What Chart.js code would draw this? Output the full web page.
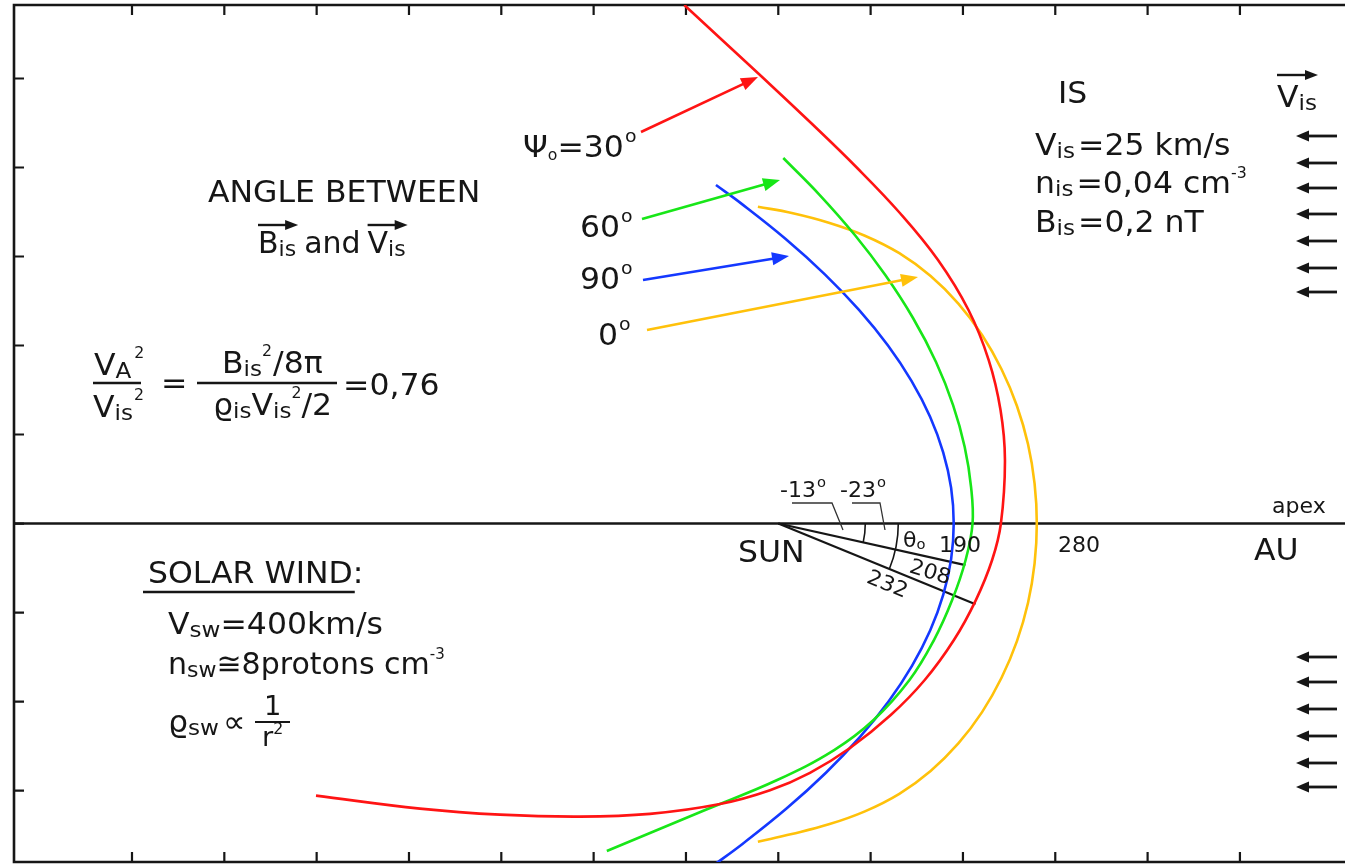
<!DOCTYPE html>
<html>
<head>
<meta charset="utf-8">
<script src="https://cdn.jsdelivr.net/npm/chart.js@4.4.1/dist/chart.umd.min.js"></script>
<style>
  html, body { margin: 0; padding: 0; background: #fff; }
  canvas { display: block; }
</style>
</head>
<body>
<canvas id="c" width="1345" height="865"></canvas>
<script>
// Heliopause cross-sections (AU), Sun at the origin, +x toward the apex.
// One curve per angle Psi0 between the interstellar field and flow.
const psi30 = [[-101.8,582.6],[-59.7,542.1],[-17.5,501.7],[35.5,450.0],[84.4,400.6],[131.7,348.9],[173.0,296.1],[206.0,239.9],[227.9,183.7],[240.7,127.5],[245.5,71.3],[241.1,0],[231.6,-41.0],[214.0,-86.0],[190.2,-130.9],[158.6,-175.8],[121.8,-215.2],[77.7,-252.2],[34.3,-280.1],[-9.0,-299.7],[-63.1,-315.2],[-139.0,-326.2],[-214.8,-329.3],[-301.4,-327.1],[-388.1,-320.3],[-500.7,-305.7]];
const psi60 = [[5.4,410.7],[44.9,369.1],[82.9,324.2],[115.9,279.2],[145.9,230.9],[170.8,181.5],[189.3,133.1],[201.9,86.0],[208.8,41.0],[210.4,0],[202.9,-41.0],[188.3,-86.0],[168.6,-130.9],[142.1,-175.8],[103.2,-220.8],[60.5,-254.5],[-1.2,-288.2],[-79.2,-321.9],[-185.7,-368.0]];
const psi90 = [[-67.5,380.3],[-40.7,360],[7.7,320],[50.4,280],[87.4,240],[118.8,200],[144.4,160],[164.4,120],[178.6,80],[187.2,40],[190,0],[187.2,-40],[178.7,-80],[164.6,-120],[144.8,-160],[119.4,-200],[88.3,-240],[51.6,-280],[9.2,-320],[-38.8,-360],[-71.6,-385]];
const psi0 = [[-22.1,356.0],[14.6,348.9],[54.7,338.0],[93.8,323.4],[131.1,303.7],[165.0,278.0],[195.0,247.1],[220.7,211.9],[241.8,173.3],[258.5,132.1],[270.5,89.1],[277.6,44.8],[280,0],[277.6,-44.8],[270.5,-89.1],[258.5,-132.1],[241.8,-173.3],[220.7,-211.9],[195.0,-247.1],[165.0,-278.0],[131.1,-303.7],[93.8,-323.4],[54.7,-338.0],[14.6,-348.9],[-22.1,-357.5]];

// Distances from the Sun along the tilted directions (degrees, AU)
const rayAngles = [-13, -23];
const rayLengths = [208, 232];

// Unlabelled tick positions (AU)
const xTicks = [-700, -600, -500, -400, -300, -200, -100, 0, 100, 200, 300, 400, 500];
const yTicks = [-300, -200, -100, 0, 100, 200, 300, 400, 500];

const FONT = '"DejaVu Sans", Verdana, sans-serif';
const INK = '#161616';
const RED = '#ff1414', GREEN = '#18e618', BLUE = '#1438ff', YELLOW = '#ffc10a';

const toPts = arr => arr.map(p => ({ x: p[0], y: p[1] }));
const curve = (arr, color) => ({
  data: toPts(arr), borderColor: color, borderWidth: 2.6,
  pointRadius: 0, tension: 0.4, fill: false
});
const ray = i => {
  const a = rayAngles[i] * Math.PI / 180;
  return {
    data: [{ x: 0, y: 0 }, { x: rayLengths[i] * Math.cos(a), y: rayLengths[i] * Math.sin(a) }],
    borderColor: INK, borderWidth: 2.2, pointRadius: 0, tension: 0
  };
};

// Draw a run of text pieces (normal / sub / superscript), left aligned.
function rich(ctx, x, y, runs, stretch = 1.05) {
  let cx = x;
  const pos = [];
  ctx.fillStyle = INK;
  ctx.textBaseline = 'alphabetic';
  ctx.textAlign = 'left';
  for (const r of runs) {
    ctx.font = `${r.s}px ${FONT}`;
    if (r.gap) cx += r.gap;
    const w = ctx.measureText(r.t).width * stretch;
    ctx.save();
    ctx.translate(cx, y + (r.dy || 0));
    ctx.scale(stretch, 1);
    ctx.fillText(r.t, 0, 0);
    ctx.restore();
    pos.push([cx, cx + w]);
    cx += w;
  }
  return pos;
}

function arrow(ctx, x1, y1, x2, y2, color, lw, hl, hw) {
  const a = Math.atan2(y2 - y1, x2 - x1);
  const c = Math.cos(a), s = Math.sin(a);
  ctx.save();
  ctx.strokeStyle = color; ctx.fillStyle = color; ctx.lineWidth = lw; ctx.lineCap = 'butt';
  ctx.beginPath(); ctx.moveTo(x1, y1); ctx.lineTo(x2 - hl * 0.7 * c, y2 - hl * 0.7 * s); ctx.stroke();
  ctx.beginPath();
  ctx.moveTo(x2, y2);
  ctx.lineTo(x2 - hl * c + hw * s, y2 - hl * s - hw * c);
  ctx.lineTo(x2 - hl * c - hw * s, y2 - hl * s + hw * c);
  ctx.closePath(); ctx.fill();
  ctx.restore();
}

function line(ctx, pts, lw, color) {
  ctx.save();
  ctx.strokeStyle = color || INK; ctx.lineWidth = lw;
  ctx.beginPath();
  pts.forEach((p, i) => i ? ctx.lineTo(p[0], p[1]) : ctx.moveTo(p[0], p[1]));
  ctx.stroke();
  ctx.restore();
}

// Frame with inward ticks and the Sun–apex axis
const framePlugin = {
  id: 'frame',
  beforeDatasetsDraw(chart) {
    const { ctx, chartArea: a, scales: { x, y } } = chart;
    ctx.save();
    ctx.strokeStyle = INK; ctx.lineWidth = 2.6;
    ctx.beginPath();
    ctx.moveTo(a.right + 2, a.top); ctx.lineTo(a.left, a.top);
    ctx.lineTo(a.left, a.bottom); ctx.lineTo(a.right + 2, a.bottom);
    ctx.stroke();
    const y0 = y.getPixelForValue(0);
    ctx.beginPath(); ctx.moveTo(a.left, y0); ctx.lineTo(a.right, y0); ctx.stroke();
    ctx.lineWidth = 2.2;
    ctx.beginPath();
    for (const v of xTicks) {
      const px = x.getPixelForValue(v);
      ctx.moveTo(px, a.top); ctx.lineTo(px, a.top + 10);
      ctx.moveTo(px, a.bottom); ctx.lineTo(px, a.bottom - 10);
    }
    for (const v of yTicks) {
      const py = y.getPixelForValue(v);
      ctx.moveTo(a.left, py); ctx.lineTo(a.left + 10, py);
    }
    ctx.stroke();
    ctx.restore();
  }
};

const B = 30, S = 22, SUP = 15, SM = 21;

const notesPlugin = {
  id: 'notes',
  afterDatasetsDraw(chart) {
    const { ctx, scales: { x, y } } = chart;
    const sx = x.getPixelForValue(0), sy = y.getPixelForValue(0);

    // angle arcs at the Sun
    ctx.save();
    ctx.strokeStyle = INK; ctx.lineWidth = 1.6;
    [87, 120].forEach((rad, i) => {
      const end = chart.data.datasets[4 + i].data[1];
      const ang = Math.atan2(y.getPixelForValue(end.y) - sy, x.getPixelForValue(end.x) - sx);
      ctx.beginPath(); ctx.arc(sx, sy, rad, 0, ang, false); ctx.stroke();
    });
    ctx.restore();

    // leader lines for the angle labels
    line(ctx, [[792, 503], [832, 503], [843, 530]], 1.3, '#333');
    line(ctx, [[852, 503], [880, 503], [885, 530]], 1.3, '#333');

    // left block
    rich(ctx, 208, 202, [{ t: 'ANGLE BETWEEN', s: B }]);
    const p1 = rich(ctx, 258, 253, [
      { t: 'B', s: B }, { t: 'is', s: S, dy: 3 }, { t: 'and', s: B, gap: 8 },
      { t: 'V', s: B, gap: 7 }, { t: 'is', s: S, dy: 3 }
    ], 1.0);
    arrow(ctx, p1[0][0], 225, p1[1][1] + 2, 225, INK, 2.4, 13, 5);
    arrow(ctx, p1[3][0], 225, p1[4][1] + 2, 225, INK, 2.4, 13, 5);

    // Alfvén ratio
    rich(ctx, 94, 375, [{ t: 'V', s: B }, { t: 'A', s: S, dy: 3 }, { t: '2', s: SUP, dy: -17, gap: 3 }]);
    line(ctx, [[93, 383], [141, 383]], 2.4);
    rich(ctx, 93, 417, [{ t: 'V', s: B }, { t: 'is', s: S, dy: 3 }, { t: '2', s: SUP, dy: -17, gap: 1 }]);
    rich(ctx, 161, 393, [{ t: '=', s: B }]);
    rich(ctx, 222, 373, [{ t: 'B', s: B }, { t: 'is', s: S, dy: 3 }, { t: '2', s: SUP, dy: -17 }, { t: '/8π', s: B, gap: 1 }]);
    line(ctx, [[197, 383], [337, 383]], 2.4);
    rich(ctx, 213, 415, [{ t: 'ϱ', s: B }, { t: 'is', s: S, dy: 3 }, { t: 'V', s: B }, { t: 'is', s: S, dy: 3 }, { t: '2', s: SUP, dy: -17 }, { t: '/2', s: B }]);
    rich(ctx, 343, 395, [{ t: '=0,76', s: B }]);

    // solar wind block
    const sw = rich(ctx, 148, 583, [{ t: 'SOLAR WIND', s: B }, { t: ':', s: B }]);
    line(ctx, [[143, 592], [sw[0][1] + 2, 592]], 2.4);
    rich(ctx, 168, 634, [{ t: 'V', s: B }, { t: 'sw', s: S, dy: 3 }, { t: '=400km/s', s: B }]);
    rich(ctx, 168, 674, [{ t: 'n', s: B }, { t: 'sw', s: S, dy: 3 }, { t: '≅8protons cm', s: B }, { t: '-3', s: SUP, dy: -15 }], 1.0);
    rich(ctx, 168, 732, [{ t: 'ϱ', s: B }, { t: 'sw', s: S, dy: 3 }, { t: '∝', s: B, gap: 4 }]);
    rich(ctx, 264, 715, [{ t: '1', s: 26 }]);
    line(ctx, [[255, 722], [290, 722]], 2.2);
    rich(ctx, 262, 746, [{ t: 'r', s: 26 }, { t: '2', s: SUP, dy: -12 }]);

    // interstellar block
    rich(ctx, 1058, 103, [{ t: 'IS', s: B }]);
    rich(ctx, 1035, 155, [{ t: 'V', s: B }, { t: 'is', s: S, dy: 3 }, { t: '=25 km/s', s: B, gap: 3 }]);
    rich(ctx, 1035, 193, [{ t: 'n', s: B }, { t: 'is', s: S, dy: 3 }, { t: '=0,04 cm', s: B, gap: 3 }, { t: '-3', s: SUP, dy: -15 }]);
    rich(ctx, 1035, 232, [{ t: 'B', s: B }, { t: 'is', s: S, dy: 3 }, { t: '=0,2 nT', s: B, gap: 3 }]);
    const pv = rich(ctx, 1277, 107, [{ t: 'V', s: B }, { t: 'is', s: S, dy: 3 }]);
    arrow(ctx, pv[0][0], 75, 1318, 75, INK, 2.4, 13, 5);

    // incoming interstellar flow
    [136, 163, 188, 214, 241, 268, 292, 657, 682, 709, 736, 763, 787].forEach(py =>
      arrow(ctx, 1337, py, 1296, py, INK, 2.8, 13, 5.5));

    // curve labels and pointers
    rich(ctx, 523, 157, [{ t: 'Ψ', s: B }, { t: 'o', s: 15, dy: 3 }, { t: '=30', s: B }, { t: 'o', s: 18, dy: -15, gap: 1 }]);
    rich(ctx, 580, 237, [{ t: '60', s: B }, { t: 'o', s: 18, dy: -15, gap: 1 }]);
    rich(ctx, 580, 289, [{ t: '90', s: B }, { t: 'o', s: 18, dy: -15, gap: 1 }]);
    rich(ctx, 598, 345, [{ t: '0', s: B }, { t: 'o', s: 18, dy: -15, gap: 1 }]);
    arrow(ctx, 641, 132, 758, 77, RED, 2.6, 17, 6.5);
    arrow(ctx, 642, 219, 780, 180, GREEN, 2.6, 17, 6.5);
    arrow(ctx, 643, 280, 789, 256, BLUE, 2.6, 17, 6.5);
    arrow(ctx, 647, 330, 918, 277, YELLOW, 2.6, 17, 6.5);

    // Sun-side labels
    rich(ctx, 738, 562, [{ t: 'SUN', s: B }]);
    rich(ctx, 939, 552, [{ t: '190', s: SM }]);
    rich(ctx, 1058, 552, [{ t: '280', s: SM }]);
    rich(ctx, 903, 547, [{ t: 'θ', s: SM }, { t: 'o', s: 14, dy: 2 }]);
    rich(ctx, 780, 497, [{ t: '-13', s: SM }, { t: 'o', s: 14, dy: -10, gap: 1 }]);
    rich(ctx, 840, 497, [{ t: '-23', s: SM }, { t: 'o', s: 14, dy: -10, gap: 1 }]);
    [[930, 573, 17, '208'], [887, 585, 22, '232']].forEach(([cx, cy, deg, txt]) => {
      ctx.save();
      ctx.translate(cx, cy); ctx.rotate(deg * Math.PI / 180);
      ctx.font = `${SM}px ${FONT}`; ctx.fillStyle = INK;
      ctx.textAlign = 'center'; ctx.textBaseline = 'middle';
      ctx.scale(1.05, 1);
      ctx.fillText(txt, 0, 0);
      ctx.restore();
    });
    rich(ctx, 1272, 513, [{ t: 'apex', s: SM }]);
    rich(ctx, 1254, 560, [{ t: 'AU', s: B }]);
  }
};

new Chart(document.getElementById('c'), {
  type: 'line',
  data: {
    datasets: [
      curve(psi30, RED),
      curve(psi60, GREEN),
      curve(psi90, BLUE),
      curve(psi0, YELLOW),
      ray(0),
      ray(1)
    ]
  },
  options: {
    responsive: false,
    devicePixelRatio: 1,
    animation: false,
    events: [],
    layout: { padding: { left: 14, top: 5, right: 0, bottom: 3 } },
    scales: {
      x: { type: 'linear', min: -827.8, max: 613.8, display: false },
      y: { type: 'linear', min: -380.3, max: 582.6, display: false }
    },
    plugins: { legend: { display: false }, tooltip: { enabled: false } }
  },
  plugins: [framePlugin, notesPlugin]
});
</script>
</body>
</html>
